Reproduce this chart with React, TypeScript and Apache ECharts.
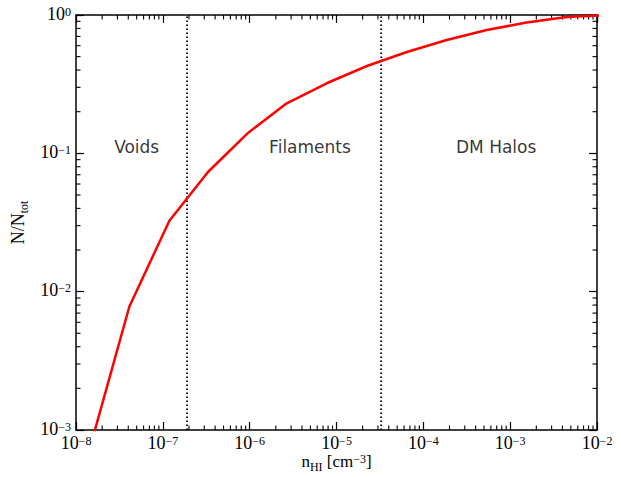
import React, { useEffect, useRef } from 'react';
import * as echarts from 'echarts';

// Data
const nHI = [1.41e-8, 4.11e-8, 1.19e-7, 3.31e-7, 9.64e-7, 2.67e-6, 7.71e-6, 2.24e-5, 6.46e-5, 1.86e-4, 5.37e-4, 1.55e-3, 4.47e-3, 1.29e-2];
const fraction = [7.0e-4, 0.00778, 0.0326, 0.0733, 0.141, 0.23, 0.321, 0.428, 0.54, 0.66, 0.779, 0.883, 0.967, 1.0];
const boundaries = [1.9e-7, 3.27e-5];
const regionNames = ['Voids', 'Filaments', 'DM Halos'];
const regionX = [5.0e-8, 4.95e-6, 6.9e-4];
const regionY = 0.111;
const xRange = [1e-8, 1e-2];
const yRange = [1e-3, 1];

const xMinor: number[] = [];
for (let e = -8; e < -2; e++) for (let m = 2; m <= 9; m++) xMinor.push(m * Math.pow(10, e));
const yMinor: number[] = [];
for (let e = -3; e < 0; e++) for (let m = 2; m <= 9; m++) yMinor.push(m * Math.pow(10, e));

const serif = 'Liberation Serif';
const sans = 'DejaVu Sans';

const powLabel = (v: number) => {
  const e = Math.round(Math.log10(v));
  return `{b|10}{s|${e < 0 ? '\u2212' + -e : e}}`;
};

const labelRich = {
  b: { fontSize: 18, lineHeight: 15, fontFamily: serif, color: '#000', verticalAlign: 'bottom' as const },
  s: { fontSize: 12, lineHeight: 11, fontFamily: serif, color: '#000', verticalAlign: 'bottom' as const, padding: [0, 0, 5, 0] },
};

export default function App() {
  const ref = useRef<HTMLDivElement>(null);
  useEffect(() => {
    document.body.style.margin = '0';
    if (!ref.current) return;
    const chart = echarts.init(ref.current, undefined, { renderer: 'svg' });
    const axisLine = { show: true, lineStyle: { color: '#000', width: 1.5 } };
    const majorTick = { show: true, inside: true, length: 8, lineStyle: { color: '#000', width: 1.2 } };
    const tickStyle = { stroke: '#000', lineWidth: 1.1 };
    chart.setOption({
      animation: false,
      backgroundColor: '#fff',
      grid: { left: 76, right: 24, top: 15, bottom: 47, containLabel: false, outerBoundsMode: 'none' },
      xAxis: [
        {
          type: 'log', logBase: 10, min: xRange[0], max: xRange[1], interval: 1, position: 'bottom',
          axisLine, axisTick: majorTick, splitLine: { show: false },
          axisLabel: { formatter: powLabel, rich: labelRich, margin: 7, showMinLabel: true, showMaxLabel: true },
          name: '{a|n}{sub|HI}{a| [cm}{sup|\u22123}{a|]}', nameLocation: 'middle', nameGap: 27,
          nameMoveOverlap: false,
          nameTextStyle: {
            rich: {
              a: { fontSize: 17, lineHeight: 16, fontFamily: serif, color: '#000', verticalAlign: 'bottom', padding: [0, 0, 3, 0] },
              sub: { fontSize: 12, lineHeight: 12, fontFamily: serif, color: '#000', verticalAlign: 'bottom' },
              sup: { fontSize: 12, lineHeight: 11, fontFamily: serif, color: '#000', verticalAlign: 'bottom', padding: [0, 0, 8, 0] },
            },
          },
        },
        {
          type: 'log', logBase: 10, min: xRange[0], max: xRange[1], interval: 1, position: 'top',
          axisLine, axisTick: majorTick, axisLabel: { show: false }, splitLine: { show: false },
        },
      ],
      yAxis: [
        {
          type: 'log', logBase: 10, min: yRange[0], max: yRange[1], interval: 1, position: 'left',
          axisLine, axisTick: majorTick, splitLine: { show: false },
          axisLabel: { formatter: powLabel, rich: labelRich, margin: 5, showMinLabel: true, showMaxLabel: true },
          name: '{a|N/N}{sub|tot}', nameLocation: 'middle', nameGap: 46, nameRotate: 90,
          nameMoveOverlap: false,
          nameTextStyle: {
            rich: {
              a: { fontSize: 18, fontFamily: serif, color: '#000', verticalAlign: 'bottom', padding: [0, 0, 3, 0] },
              sub: { fontSize: 12, fontFamily: serif, color: '#000', verticalAlign: 'bottom' },
            },
          },
        },
        {
          type: 'log', logBase: 10, min: yRange[0], max: yRange[1], interval: 1, position: 'right',
          axisLine, axisTick: majorTick, axisLabel: { show: false }, splitLine: { show: false },
        },
      ],
      series: [
        {
          type: 'custom', xAxisIndex: 0, yAxisIndex: 0, silent: true,
          data: xMinor.map((v) => [v, 0.1]),
          renderItem: (params: any, api: any) => {
            const p = api.coord([api.value(0), 0.1]);
            const cs = params.coordSys;
            const x = p[0];
            return {
              type: 'group',
              children: [
                { type: 'line', shape: { x1: x, y1: cs.y + cs.height, x2: x, y2: cs.y + cs.height - 4.5 }, style: tickStyle },
                { type: 'line', shape: { x1: x, y1: cs.y, x2: x, y2: cs.y + 4.5 }, style: tickStyle },
              ],
            };
          },
        },
        {
          type: 'custom', xAxisIndex: 0, yAxisIndex: 0, silent: true,
          data: yMinor.map((v) => [1e-5, v]),
          renderItem: (params: any, api: any) => {
            const p = api.coord([1e-5, api.value(1)]);
            const cs = params.coordSys;
            const y = p[1];
            return {
              type: 'group',
              children: [
                { type: 'line', shape: { x1: cs.x, y1: y, x2: cs.x + 4.5, y2: y }, style: tickStyle },
                { type: 'line', shape: { x1: cs.x + cs.width, y1: y, x2: cs.x + cs.width - 4.5, y2: y }, style: tickStyle },
              ],
            };
          },
        },
        ...boundaries.map((b) => ({
          type: 'line', xAxisIndex: 0, yAxisIndex: 0, symbol: 'none', silent: true,
          data: [[b, yRange[0]], [b, yRange[1]]],
          lineStyle: { color: '#000', width: 1.8, type: [1.6, 2.4] },
        })),
        {
          type: 'line', xAxisIndex: 0, yAxisIndex: 0, symbol: 'none', clip: true,
          data: nHI.map((x, i) => [x, fraction[i]]),
          lineStyle: { color: '#ff0000', width: 2.5 },
          z: 5,
        },
        {
          type: 'scatter', xAxisIndex: 0, yAxisIndex: 0, symbolSize: 0, silent: true,
          data: regionNames.map((n, i) => ({ value: [regionX[i], regionY], name: n })),
          label: {
            show: true, position: 'inside', formatter: (p: any) => p.name,
            fontFamily: sans, fontSize: 17, color: '#000',
          },
        },
      ],
    });
    return () => chart.dispose();
  }, []);
  return <div ref={ref} style={{ width: 621, height: 477, position: 'fixed', left: 0, top: 0 }} />;
}
